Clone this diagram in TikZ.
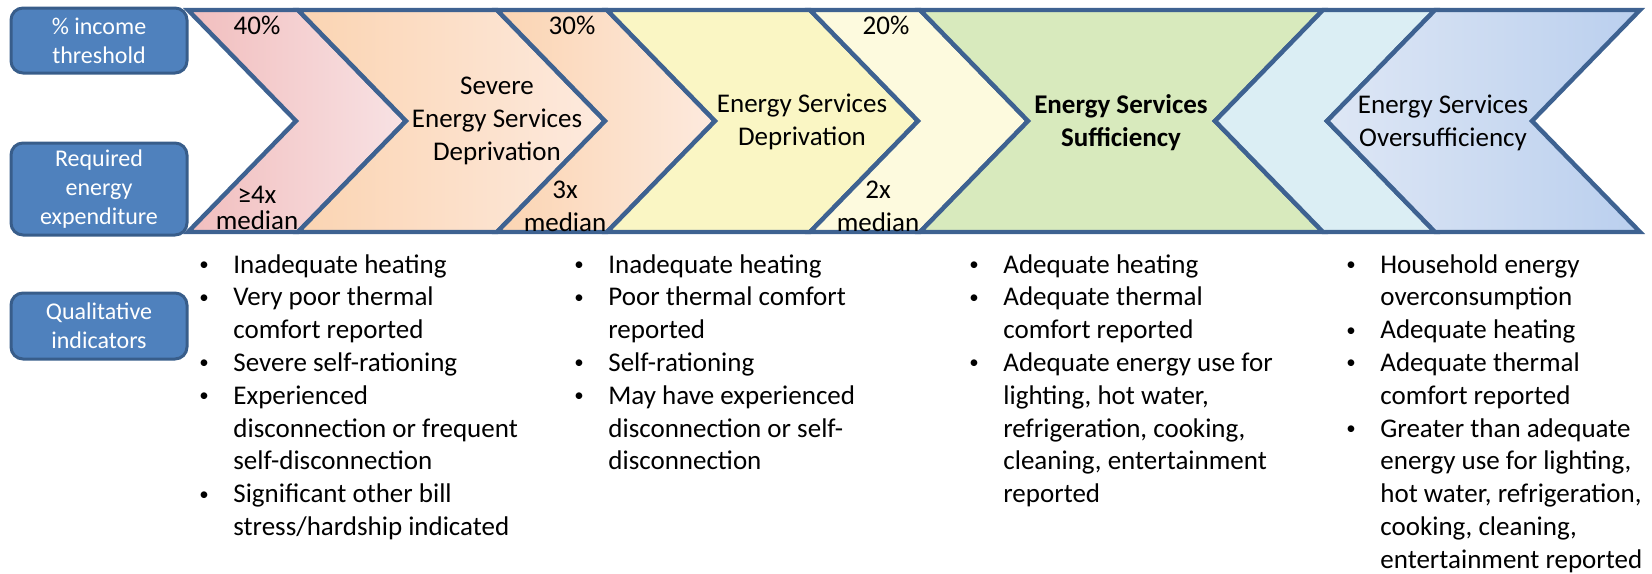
\documentclass[tikz,border=0pt]{standalone}
\usepackage{fontspec}
\setmainfont{Carlito}
\usepackage{xcolor}
\usepackage{graphicx}
\usepackage{tikz}
\definecolor{edgeblue}{RGB}{62, 98, 145}
\definecolor{labelblue}{RGB}{79, 129, 189}
\definecolor{labeledge}{RGB}{56, 93, 138}
\definecolor{pinkdark}{RGB}{241, 190, 190}
\definecolor{pinklight}{RGB}{248, 226, 228}
\definecolor{peachdark}{RGB}{251, 212, 178}
\definecolor{peachlight}{RGB}{253, 234, 222}
\definecolor{yellowmid}{RGB}{250, 246, 196}
\definecolor{yellowlight}{RGB}{253, 250, 222}
\definecolor{sufgreen}{RGB}{216, 234, 189}
\definecolor{icyblue}{RGB}{219, 238, 244}
\definecolor{bluelight}{RGB}{222, 231, 245}
\definecolor{bluedark}{RGB}{186, 207, 238}

% chevron pointing right / left, given x of the top-left and top-right corner
\newcommand{\chev}[2]{(#1,10) -- (#2,10) -- ++(108,111) -- (#2,232) -- (#1,232) -- ++(108,-111) -- cycle}
\newcommand{\rchev}[2]{(#1,10) -- (#2,10) -- ++(-108,111) -- (#2,232) -- (#1,232) -- ++(-108,-111) -- cycle}
\newcommand{\bul}{\makebox[18pt][l]{\hspace{1pt}\raisebox{1.3pt}{\scalebox{0.7}{\textbullet}}}}

\begin{document}
\begin{tikzpicture}[x=0.5pt, y=-0.5pt,
  every node/.style={font=\fontsize{13.5}{16.4}\selectfont, inner sep=0pt},
  band/.style={draw=edgeblue, line width=2.2pt, line join=miter},
  rowlabel/.style={draw=labeledge, line width=1.5pt, fill=labelblue, rounded corners=6pt, text=white,
    font=\fontsize{12}{14.6}\selectfont, align=center, minimum width=88pt},
  phase/.style={align=center},
  cut/.style={align=center},
  indicators/.style={anchor=base west}]
  \useasboundingbox (0,0) rectangle (1652,573);

  % the band of thresholds
  \draw[band, left color=pinkdark, right color=pinklight] \chev{188}{298};
  \draw[band, left color=peachdark, right color=peachlight] \chev{298}{497};
  \draw[band, left color=peachdark, right color=peachlight] \chev{497}{607};
  \draw[band, fill=yellowmid] \chev{607}{810};
  \draw[band, fill=yellowlight] \chev{810}{920};
  \draw[band, fill=sufgreen] (920,10) -- (1323,10) -- (1215,121) -- (1323,232) -- (920,232) -- (1028,121) -- cycle;
  \draw[band, fill=icyblue] \rchev{1323}{1435};
  \draw[band, left color=bluelight, right color=bluedark] \rchev{1435}{1640};

  % row headings
  \node[rowlabel, minimum height=32.5pt] (income) at (99,40.5) {\% income\\threshold};
  \node[rowlabel, minimum height=46pt] (energy) at (99,189) {Required\\energy\\expenditure};
  \node[rowlabel, minimum height=33pt] (quali) at (99,326) {Qualitative\\indicators};

  % thresholds
  \node (p40) at (257,25) {40\%};
  \node (p30) at (572,25) {30\%};
  \node (p20) at (886,25) {20\%};
  \node[cut] (m4) at (257,208) {≥4x\\[-3pt]median};
  \node[cut] (m3) at (565,206) {3x\\median};
  \node[cut] (m2) at (878,206) {2x\\median};

  % phases
  \node[phase] (severe) at (497,121) {Severe\\Energy Services\\Deprivation};
  \node[phase] (depriv) at (802,122) {Energy Services\\Deprivation};
  \node[phase, font=\fontsize{13.5}{16.4}\selectfont\bfseries] (suff) at (1121,123) {Energy Services\\Sufficiency};
  \node[phase] (over) at (1443,123) {Energy Services\\Oversufficiency};

  % qualitative indicators
  \node[indicators] (ind1) at (197,273) {\begin{tabular}[t]{@{}l@{}l@{}}
    \bul & Inadequate heating\\
    \bul & Very poor thermal\\
         & comfort reported\\
    \bul & Severe self-rationing\\
    \bul & Experienced\\
         & disconnection or frequent\\
         & self-disconnection\\
    \bul & Significant other bill\\
         & stress/hardship indicated
  \end{tabular}};
  \node[indicators] (ind2) at (572,273) {\begin{tabular}[t]{@{}l@{}l@{}}
    \bul & Inadequate heating\\
    \bul & Poor thermal comfort\\
         & reported\\
    \bul & Self-rationing\\
    \bul & May have experienced\\
         & disconnection or self-\\
         & disconnection
  \end{tabular}};
  \node[indicators] (ind3) at (967,273) {\begin{tabular}[t]{@{}l@{}l@{}}
    \bul & Adequate heating\\
    \bul & Adequate thermal\\
         & comfort reported\\
    \bul & Adequate energy use for\\
         & lighting, hot water,\\
         & refrigeration, cooking,\\
         & cleaning, entertainment\\
         & reported
  \end{tabular}};
  \node[indicators] (ind4) at (1344,273) {\begin{tabular}[t]{@{}l@{}l@{}}
    \bul & Household energy\\
         & overconsumption\\
    \bul & Adequate heating\\
    \bul & Adequate thermal\\
         & comfort reported\\
    \bul & Greater than adequate\\
         & energy use for lighting,\\
         & hot water, refrigeration,\\
         & cooking, cleaning,\\
         & entertainment reported
  \end{tabular}};
\end{tikzpicture}
\end{document}
